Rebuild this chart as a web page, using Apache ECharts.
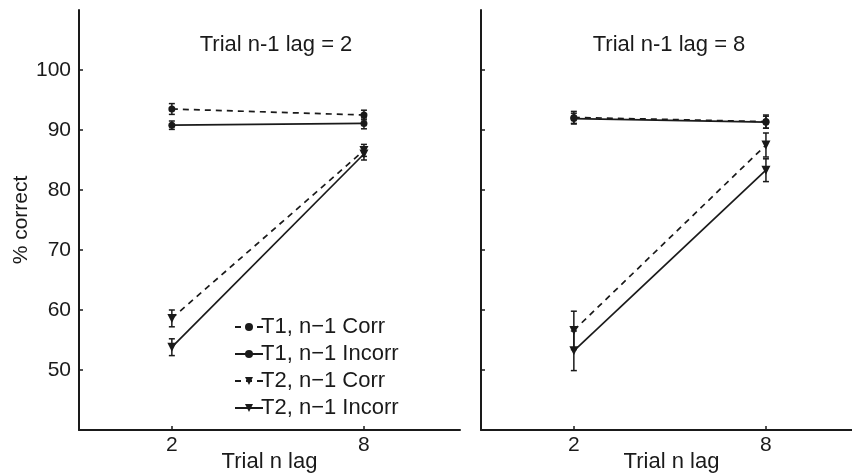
<!DOCTYPE html>
<html>
<head>
<meta charset="utf-8">
<script src="https://cdn.jsdelivr.net/npm/echarts@6/dist/echarts.min.js"></script>
<style>
  html, body { margin: 0; padding: 0; background: #fff; }
  #main { width: 852px; height: 476px; }
</style>
</head>
<body>
<div id="main"></div>
<script>
const lags = [2, 8];
const yTicks = [50, 60, 70, 80, 90, 100];
const names = ["T1, n\u22121 Corr", "T1, n\u22121 Incorr", "T2, n\u22121 Corr", "T2, n\u22121 Incorr"];
const panelTitles = ["Trial n-1 lag = 2", "Trial n-1 lag = 8"];

// panel 1: trial n-1 lag = 2
const p1T1Corr = [93.5, 92.5];
const p1T1CorrErr = [0.9, 0.8];
const p1T1Incorr = [90.8, 91.1];
const p1T1IncorrErr = [0.7, 0.9];
const p1T2Corr = [58.6, 86.6];
const p1T2CorrErr = [1.4, 1.0];
const p1T2Incorr = [53.8, 86.0];
const p1T2IncorrErr = [1.4, 1.0];

// panel 2: trial n-1 lag = 8
const p2T1Corr = [92.1, 91.4];
const p2T1CorrErr = [1.0, 1.1];
const p2T1Incorr = [91.9, 91.3];
const p2T1IncorrErr = [0.9, 1.0];
const p2T2Corr = [56.6, 87.5];
const p2T2CorrErr = [3.2, 2.0];
const p2T2Incorr = [53.2, 83.3];
const p2T2IncorrErr = [3.3, 1.9];

const panels = [
  [p1T1Corr, p1T1Incorr, p1T2Corr, p1T2Incorr],
  [p2T1Corr, p2T1Incorr, p2T2Corr, p2T2Incorr]
];
const panelErrs = [
  [p1T1CorrErr, p1T1IncorrErr, p1T2CorrErr, p1T2IncorrErr],
  [p2T1CorrErr, p2T1IncorrErr, p2T2CorrErr, p2T2IncorrErr]
];

const font = "Liberation Sans";
const ink = "#1a1a1a";
const dashed = [true, false, true, false];
const symbols = ["circle", "circle", "triangle", "triangle"];

const chartDom = document.getElementById("main");
const myChart = echarts.init(chartDom);

function errorBar(params, api) {
  const x = api.value(0);
  const lo = api.coord([x, api.value(1)]);
  const hi = api.coord([x, api.value(2)]);
  const w = 3;
  const style = { stroke: ink, lineWidth: 1.5 };
  return {
    type: "group",
    children: [
      { type: "line", shape: { x1: lo[0], y1: lo[1], x2: hi[0], y2: hi[1] }, style },
      { type: "line", shape: { x1: lo[0] - w, y1: lo[1], x2: lo[0] + w, y2: lo[1] }, style },
      { type: "line", shape: { x1: hi[0] - w, y1: hi[1], x2: hi[0] + w, y2: hi[1] }, style }
    ]
  };
}

const series = [];
panels.forEach((vals, p) => {
  vals.forEach((v, k) => {
    series.push({
      name: names[k],
      type: "line",
      xAxisIndex: p,
      yAxisIndex: p,
      data: lags.map((x, i) => [x, v[i]]),
      symbol: symbols[k],
      symbolSize: k < 2 ? 7 : 9,
      symbolRotate: k < 2 ? 0 : 180,
      showAllSymbol: true,
      lineStyle: { color: ink, width: 1.7, type: dashed[k] ? [6, 5] : "solid" },
      itemStyle: { color: ink },
      z: 3,
      silent: true
    });
    series.push({
      type: "custom",
      xAxisIndex: p,
      yAxisIndex: p,
      renderItem: errorBar,
      data: lags.map((x, i) => [x, v[i] - panelErrs[p][k][i], v[i] + panelErrs[p][k][i]]),
      z: 4,
      silent: true
    });
  });
});

const xAxisBase = {
  type: "value",
  min: -0.9,
  max: 11,
  axisLine: { onZero: false, lineStyle: { color: ink, width: 2 } },
  axisTick: { inside: true, length: 4, lineStyle: { color: ink, width: 1.5 }, customValues: lags },
  axisLabel: { color: ink, fontFamily: font, fontSize: 21, margin: 5, customValues: lags },
  splitLine: { show: false },
  name: "Trial n lag",
  nameLocation: "middle",
  nameGap: 21,
  nameMoveOverlap: false,
  nameTextStyle: { color: ink, fontFamily: font, fontSize: 22 }
};

const yAxisBase = {
  type: "value",
  min: 40,
  max: 110,
  interval: 10,
  axisLine: { show: true, onZero: false, lineStyle: { color: ink, width: 2 } },
  axisTick: { show: true, inside: true, length: 4, lineStyle: { color: ink, width: 1.5 }, customValues: yTicks },
  axisLabel: { color: ink, fontFamily: font, fontSize: 21, margin: 8, customValues: yTicks },
  splitLine: { show: false }
};

const option = {
  animation: false,
  backgroundColor: "#fff",
  title: panelTitles.map((t, i) => ({
    text: t,
    left: i === 0 ? 271 : 664,
    top: 29,
    textAlign: "center",
    textStyle: { color: ink, fontFamily: font, fontSize: 22, fontWeight: "normal" }
  })),
  legend: {
    data: names,
    orient: "vertical",
    left: 229,
    top: 311,
    itemWidth: 28,
    itemHeight: 10,
    itemGap: 5,
    textStyle: { color: ink, fontFamily: font, fontSize: 22, padding: [0, 0, 0, -7] },
    selectedMode: false
  },
  grid: [
    { left: 79, top: 10, width: 381, height: 420, outerBoundsMode: "none", containLabel: false },
    { left: 481, top: 10, width: 381, height: 420, outerBoundsMode: "none", containLabel: false }
  ],
  xAxis: [
    Object.assign({}, xAxisBase, { gridIndex: 0 }),
    Object.assign({}, xAxisBase, { gridIndex: 1 })
  ],
  yAxis: [
    Object.assign({}, yAxisBase, {
      gridIndex: 0,
      name: "% correct",
      nameLocation: "middle",
      nameGap: 47,
      nameTextStyle: { color: ink, fontFamily: font, fontSize: 21 }
    }),
    Object.assign({}, yAxisBase, { gridIndex: 1, axisLabel: { show: false } })
  ],
  series: series
};

option && myChart.setOption(option);
</script>
</body>
</html>
